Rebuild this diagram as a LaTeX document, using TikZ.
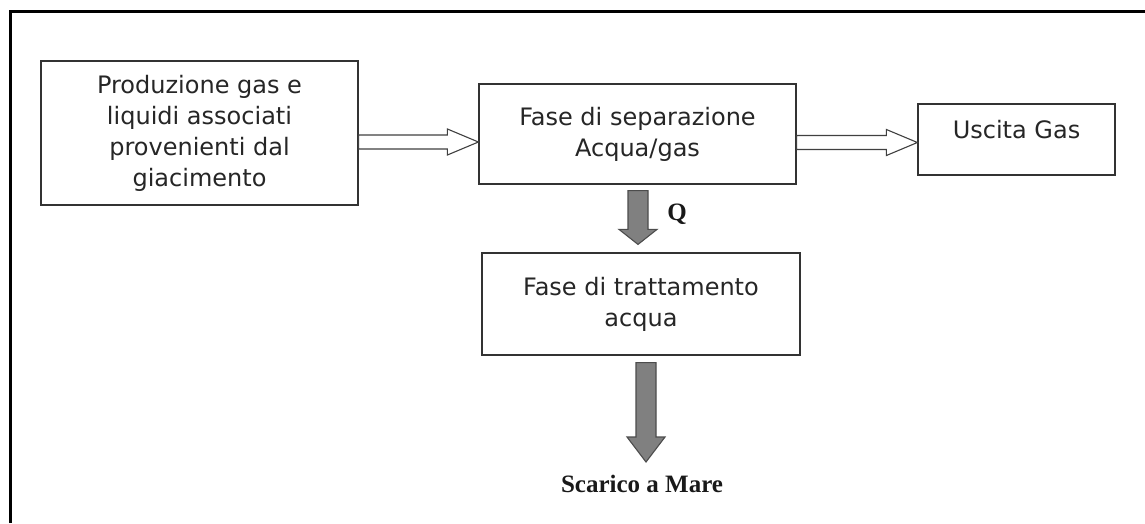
\documentclass[tikz,border=0pt]{standalone}
\usepackage{fontspec}
\newfontfamily\boxfont{DejaVu Sans}
\newfontfamily\labelfont{Liberation Serif Bold}
\usetikzlibrary{positioning, calc}

% open arrow between two named points (horizontal)
\newcommand{\openarrow}[2]{%
  \draw[openflow] ($(#1)+(0,-7)$) -- ($(#2)+(-31,-7)$) -- ($(#2)+(-31,-13)$) -- (#2)
    -- ($(#2)+(-31,13)$) -- ($(#2)+(-31,7)$) -- ($(#1)+(0,7)$) -- cycle;}
% filled grey arrow pointing down, #3 = head length
\newcommand{\greyarrow}[3]{%
  \draw[greyflow] ($(#1)+(-10,0)$) -- ($(#2)+(-10,-#3)$) -- ($(#2)+(-19,-#3)$) -- (#2)
    -- ($(#2)+(19,-#3)$) -- ($(#2)+(10,-#3)$) -- ($(#1)+(10,0)$) -- cycle;}

\begin{document}
\begin{tikzpicture}[
    x=1pt, y=-1pt,
    box/.style={rectangle, draw=black!80, line width=1.2pt, fill=white, inner sep=0pt,
        align=center, text=black!85, font=\boxfont\fontsize{24}{31}\selectfont},
    lbl/.style={font=\labelfont\fontsize{25}{28}\selectfont, text=black!90},
    openflow/.style={draw=black!75, line width=1.1pt, fill=white, line join=miter},
    greyflow/.style={draw=black!70, line width=1.1pt, fill=black!50, line join=miter},
    frame/.style={draw=black, line width=3pt}
]
    \useasboundingbox (0,0) rectangle (1145,523);
    \draw[frame] (10,523) -- (10,11) -- (1145,11);

    % Process blocks
    \node[box, minimum width=317pt, minimum height=144pt] (prod) at (199.5,133)
        {Produzione gas e\\liquidi associati\\provenienti dal\\giacimento};
    \node[box, minimum width=317pt, minimum height=100pt] (sep) at (637.5,134)
        {Fase di separazione\\Acqua/gas};
    \node[box, minimum width=197pt, minimum height=71pt, text height=12pt, text depth=13.5pt]
        (gas) at (1016.5,139.5) {Uscita Gas};
    \node[box, minimum width=318pt, minimum height=102pt] (tratt) at (641,304)
        {Fase di trattamento\\acqua};

    % Labels
    \node[lbl] (q) at (677,214) {Q};
    \node[lbl] (mare) at (642,484) {Scarico a Mare};

    % Connector ends
    \coordinate (p1) at ($(prod.east)+(0,9)$);
    \coordinate (s1) at (sep.west |- p1);
    \coordinate (s2) at ($(sep.east)+(0,8.5)$);
    \coordinate (g1) at (gas.west |- s2);
    \coordinate (s3) at ($(sep.south)+(0.5,6)$);
    \coordinate (t1) at ($(tratt.north)+(-3,-8)$);
    \coordinate (t2) at ($(tratt.south)+(5,7)$);
    \coordinate (m1) at (646,462);

    % Arrows
    \openarrow{p1}{s1}
    \openarrow{s2}{g1}
    \greyarrow{s3}{t1}{15}
    \greyarrow{t2}{m1}{25}
\end{tikzpicture}
\end{document}
